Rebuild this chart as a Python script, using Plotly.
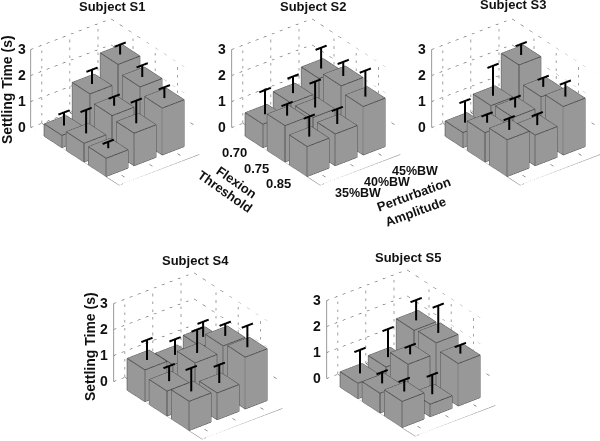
import math
import plotly.graph_objects as go

W, H = 600, 441
subjects = ["Subject S1", "Subject S2", "Subject S3", "Subject S4", "Subject S5"]
flexion_labels = ["0.70", "0.75", "0.85"]
amplitude_labels = ["35%BW", "40%BW", "45%BW"]
z_ticks = [0, 1, 2, 3]

# rows: flexion threshold 0.70, 0.75, 0.85; columns: 35, 40, 45 %BW
s1_mean = [[0.47, 1.65, 2.37], [0.72, 1.37, 2.06], [0.70, 1.25, 1.80]]
s1_err = [[0.50, 0.55, 0.38], [0.90, 0.35, 0.45], [0.25, 0.87, 0.42]]
s2_mean = [[0.90, 1.30, 1.83], [1.40, 1.30, 2.10], [1.15, 1.22, 1.86]]
s2_err = [[0.93, 0.64, 0.80], [0.45, 1.00, 0.54], [0.77, 0.58, 1.00]]
s3_mean = [[0.58, 1.20, 2.35], [1.13, 1.30, 1.68], [1.41, 1.18, 1.86]]
s3_err = [[0.83, 1.15, 0.42], [0.32, 0.38, 0.35], [0.45, 0.42, 0.54]]
s4_mean = [[1.22, 1.00, 1.28], [0.96, 1.63, 1.87], [1.12, 1.03, 1.99]]
s4_err = [[0.77, 0.60, 0.58], [0.58, 0.90, 0.47], [0.90, 0.70, 0.83]]
s5_mean = [[0.59, 0.80, 1.80], [0.76, 1.46, 1.87], [1.00, 0.48, 1.63]]
s5_err = [[0.90, 1.08, 0.78], [0.43, 0.33, 1.05], [0.45, 0.75, 0.33]]
means = [s1_mean, s2_mean, s3_mean, s4_mean, s5_mean]
errs = [s1_err, s2_err, s3_err, s4_err, s5_err]

# scene centres in pixels
centres = [(115, 102), (316, 102), (516, 102), (198, 356), (411, 353)]
HALF_W, HALF_H = 90, 85
PX_PER_UNIT = 85.0
X_RANGE = [-1, 3]
Y_RANGE = [-0.4, 2.46]
Z_RANGE = [0, 3]
BW_X, BW_Y = 0.4, 0.39
AZ, EL = math.radians(-37.5), math.radians(30)
EYE_R = 2.0
ASPECT = dict(x=1.71, y=1.19, z=1.06)
GRID_X = [0, 1, 2]
GRID_Y = [0, 1, 2]
BAR = "#989898"
EDGE = "#3a3a3a"
GRID = "#444444"
FONT = "Liberation Sans"


def sep_lines(segs):
    xs, ys, zs = [], [], []
    for a, b in segs:
        xs += [a[0], b[0], None]
        ys += [a[1], b[1], None]
        zs += [a[2], b[2], None]
    return xs, ys, zs


def line(segs, color, width, dash="solid", scene="scene"):
    x, y, z = sep_lines(segs)
    return go.Scatter3d(x=x, y=y, z=z, mode="lines", scene=scene, showlegend=False, hoverinfo="skip",
                        line=dict(color=color, width=width, dash=dash))


fig = go.Figure()
layout_scenes = {}
for n, (mean, err, (cx, cy)) in enumerate(zip(means, errs, centres)):
    sc = "scene" if n == 0 else f"scene{n + 1}"
    vx, vy, vz, fi, fj, fk = [], [], [], [], [], []
    edges, stems = [], []
    for i in range(3):
        for j in range(3):
            h = mean[i][j]
            e = err[i][j]
            x0, x1, y0, y1 = i - BW_X, i + BW_X, j - BW_Y, j + BW_Y
            b = len(vx)
            vx += [x0, x1, x1, x0, x0, x1, x1, x0]
            vy += [y0, y0, y1, y1, y0, y0, y1, y1]
            vz += [0, 0, 0, 0, h, h, h, h]
            for q in [(0, 1, 2, 3), (4, 5, 6, 7), (0, 1, 5, 4), (1, 2, 6, 5), (2, 3, 7, 6), (3, 0, 4, 7)]:
                fi += [b + q[0], b + q[0]]
                fj += [b + q[1], b + q[2]]
                fk += [b + q[2], b + q[3]]
            c = [(x0, y0), (x1, y0), (x1, y1), (x0, y1)]
            for k in range(4):
                p, q = c[k], c[(k + 1) % 4]
                edges.append(((p[0], p[1], h), (q[0], q[1], h)))
                edges.append(((p[0], p[1], 0), (q[0], q[1], 0)))
                edges.append(((p[0], p[1], 0), (p[0], p[1], h)))
            stems.append(((i, j, h), (i, j, h + e)))
            stems.append(((i, j - 0.2, h + e), (i, j + 0.2, h + e)))
    xa, xb = X_RANGE
    ya, yb = Y_RANGE
    za, zb = Z_RANGE
    grid = []
    for z in z_ticks:
        grid.append(((xa, ya, z), (xa, yb, z)))
        grid.append(((xa, yb, z), (xb, yb, z)))
    for g in GRID_Y:
        grid.append(((xa, g, za), (xa, g, zb)))
        grid.append(((xa, g, za), (xb, g, za)))
    for g in GRID_X:
        grid.append(((g, yb, za), (g, yb, zb)))
        grid.append(((g, ya, za), (g, yb, za)))
    fig.add_trace(line(grid, GRID, 1, "dot", sc))
    fig.add_trace(go.Mesh3d(x=vx, y=vy, z=vz, i=fi, j=fj, k=fk, color=BAR, flatshading=True, scene=sc,
                            hoverinfo="skip", showscale=False,
                            lighting=dict(ambient=1, diffuse=0, specular=0, fresnel=0, roughness=1)))
    fig.add_trace(line(edges, EDGE, 1.5, "solid", sc))
    fig.add_trace(line(stems, "#000000", 4, "solid", sc))
    fig.add_trace(line([((xa, ya, za), (xb, ya, za)), ((xb, ya, za), (xb, yb, za))], "#777777", 1, "solid", sc))
    fig.add_trace(line([((xa, ya, za), (xa, ya, zb))], "#999999", 2, "solid", sc))
    ax = dict(visible=False, showgrid=False, showbackground=False, zeroline=False, showspikes=False)
    dom_x0, dom_x1 = cx - HALF_W, min(W, cx + HALF_W)
    # keep the picture centred on cx when the right page edge trims the domain
    shift = (cx - (dom_x0 + dom_x1) / 2) / PX_PER_UNIT
    dx, dy = -shift * (-math.sin(AZ)), -shift * math.cos(AZ)
    layout_scenes[sc] = dict(
        domain=dict(x=[dom_x0 / W, dom_x1 / W],
                    y=[1 - (cy + HALF_H) / H, 1 - (cy - HALF_H) / H]),
        xaxis=dict(range=X_RANGE, **ax), yaxis=dict(range=Y_RANGE, **ax), zaxis=dict(range=Z_RANGE, **ax),
        aspectmode="manual", aspectratio=ASPECT,
        camera=dict(projection=dict(type="orthographic"), up=dict(x=0, y=0, z=1), center=dict(x=dx, y=dy, z=0),
                    eye=dict(x=EYE_R * math.cos(EL) * math.cos(AZ) + dx, y=EYE_R * math.cos(EL) * math.sin(AZ) + dy,
                             z=EYE_R * math.sin(EL))),
        bgcolor="rgba(0,0,0,0)")


def note(text, x, y, size=12, angle=0, bold=True):
    fig.add_annotation(text=f"<b>{text}</b>" if bold else text, x=x / W, y=1 - y / H, xref="paper", yref="paper",
                       xanchor="center", yanchor="middle", showarrow=False, textangle=angle,
                       font=dict(family=FONT, size=size, color="#111111"))


title_pos = [(112, 6), (313, 6), (513, 5), (195, 260), (408, 257)]
for t, (x, y) in zip(subjects, title_pos):
    note(t, x, y, 13)
note("Settling Time (s)", 7, 90, 14, -90)
note("Settling Time (s)", 90, 347, 14, -90)
tick_pos = [(22, 127, 26), (222, 127, 26), (422, 127, 26), (104, 381, 26), (317, 378, 26)]
for x, y0, d in tick_pos:
    for z in z_ticks:
        note(str(z), x, y0 - z * d, 14)
for t, (x, y) in zip(flexion_labels, [(234, 153), (256, 168), (278, 183)]):
    note(t, x, y, 13)
for t, (x, y) in zip(amplitude_labels, [(358, 193), (387, 182), (415, 171)]):
    note(t, x, y, 12.5)
note("Flexion", 237, 182, 13, 35)
note("Threshold", 225, 191, 13, 35)
note("Perturbation", 413, 194, 13, -20)
note("Amplitude", 416, 212, 13, -20)

fig.update_layout(width=W, height=H, margin=dict(l=0, r=0, t=0, b=0), paper_bgcolor="white", showlegend=False,
                  **layout_scenes)
fig.write_html("out.html", config=dict(displayModeBar=False), post_script="document.body.style.margin='0';")
